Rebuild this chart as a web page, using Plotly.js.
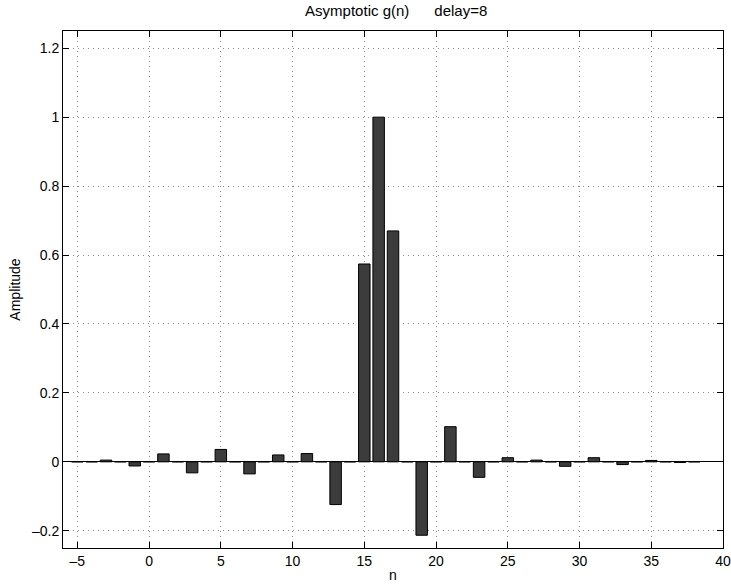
<!DOCTYPE html>
<html>
<head>
<meta charset="utf-8">
<script src="https://cdn.plot.ly/plotly-3.0.1.min.js"></script>
<style>html,body{margin:0;padding:0;background:#fff;}#chart{width:731px;height:585px;}</style>
</head>
<body>
<div id="chart"></div>
<script>
// sample index n
const nValues = [-5,-4,-3,-2,-1,0,1,2,3,4,5,6,7,8,9,10,11,12,13,14,15,16,17,18,19,20,21,22,23,24,25,26,27,28,29,30,31,32,33,34,35,36,37,38];
// asymptotic g(n) amplitudes
const gValues = [0,0,0.005,0,-0.012,0,0.023,0,-0.032,0,0.036,0,-0.035,0,0.020,0,0.024,0,-0.124,0,0.574,1.0,0.670,0,-0.213,0,0.102,0,-0.045,0,0.012,0,0.005,0,-0.013,0,0.012,0,-0.008,0,0.004,0,-0.002,0];
const xTicks = [-5,0,5,10,15,20,25,30,35,40];
const yTicks = [-0.2,0,0.2,0.4,0.6,0.8,1,1.2];

const font = {family: '"Liberation Sans", Arial, Helvetica, sans-serif', size: 14, color: '#000'};

const trace = {
  type: 'bar',
  x: nValues,
  y: gValues,
  width: 0.8,
  marker: {color: '#3c3c3c', line: {color: '#000', width: 1}},
  hoverinfo: 'x+y'
};

const axisCommon = {
  showline: true, linecolor: '#000', linewidth: 1, mirror: 'ticks',
  ticks: 'inside', ticklen: 6, tickcolor: '#000', tickwidth: 1,
  showgrid: true, gridcolor: '#8a8a8a', gridwidth: 1, griddash: '1px,4px',
  tickfont: font, zeroline: false
};

const layout = {
  width: 731, height: 585,
  margin: {l: 63, r: 8, t: 31, b: 37},
  paper_bgcolor: '#fff', plot_bgcolor: '#fff',
  showlegend: false,
  font: font,
  title: {text: 'Asymptotic g(n)      delay=8', font: {family: font.family, size: 15, color: '#000'}, x: 0.542, xanchor: 'center', y: 0.982, yanchor: 'middle'},
  bargap: 0,
  xaxis: Object.assign({}, axisCommon, {
    range: [-6, 40], tickmode: 'array', tickvals: xTicks, ticktext: xTicks.map(v => v < 0 ? '\u2013' + String(-v) : String(v)),
    title: {text: 'n', font: font, standoff: 2}
  }),
  yaxis: Object.assign({}, axisCommon, {
    range: [-0.25, 1.25], tickmode: 'array', tickvals: yTicks, ticktext: yTicks.map(v => v < 0 ? '\u2013' + String(-v) : String(v)),
    zeroline: true, zerolinecolor: '#000', zerolinewidth: 1,
    title: {text: 'Amplitude', font: font, standoff: 8}
  })
};

Plotly.newPlot('chart', [trace], layout, {displayModeBar: false, staticPlot: true});
</script>
</body>
</html>
